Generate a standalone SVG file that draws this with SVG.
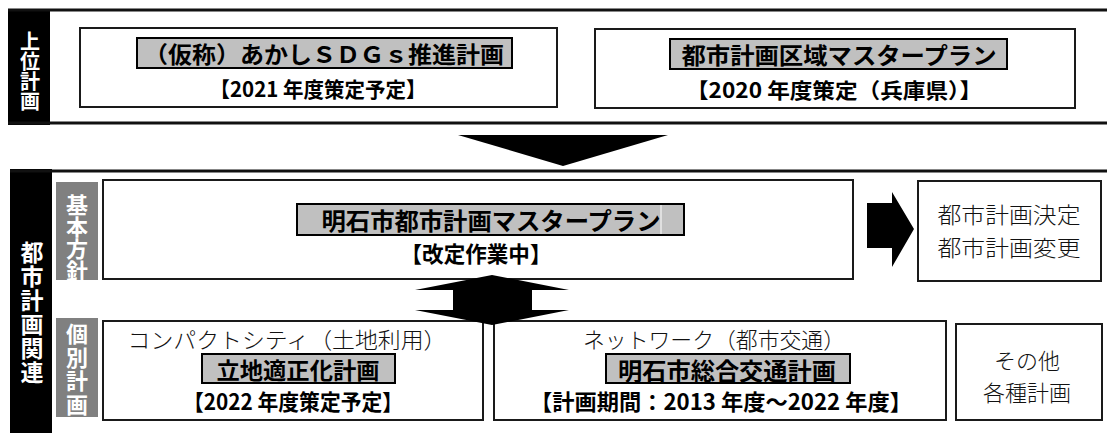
<svg xmlns="http://www.w3.org/2000/svg" width="1107" height="433" viewBox="0 0 1107 433">
<style>
  .sep{stroke:#111;stroke-width:3;fill:none}
  .band{fill:#000}
  .gband{fill:#808080}
  .vt{font-family:"Noto Sans CJK JP",sans-serif;font-weight:700;fill:#fff;writing-mode:vertical-rl;text-orientation:upright}
  .box{fill:#fff;stroke:#1a1a1a;stroke-width:2}
  .bar{fill:#c0c0c0;stroke:#000;stroke-width:2}
  .b{font-family:"Noto Sans CJK JP",sans-serif;font-weight:700;fill:#000;text-anchor:middle;dominant-baseline:central}
  .m{font-family:"Noto Sans CJK JP",sans-serif;font-weight:300;fill:#111;text-anchor:middle;dominant-baseline:central}
  .arr{fill:#000}
</style>

<g id="section-upper">
  <rect class="band" x="8" y="9" width="42" height="116"/>
  <line class="sep" x1="8" y1="10" x2="1107" y2="10"/>
  <line class="sep" x1="8" y1="123" x2="1107" y2="123"/>
  <text class="vt" font-size="20" x="30" y="31">上位計画</text>
</g>

<g id="node-sdgs">
  <rect class="box" x="80" y="28" width="477" height="79"/>
  <rect class="bar" x="137" y="38" width="375" height="30"/>
  <text class="b" font-size="23" x="324" y="53" textLength="360" lengthAdjust="spacingAndGlyphs">（仮称）あかしＳＤＧｓ推進計画</text>
  <text class="b" font-size="21" x="318" y="88" textLength="217" lengthAdjust="spacingAndGlyphs">【2021 年度策定予定】</text>
</g>

<g id="node-area-master">
  <rect class="box" x="595" y="29" width="480" height="79"/>
  <rect class="bar" x="670" y="39" width="337" height="30"/>
  <text class="b" font-size="23" x="839" y="54" textLength="315" lengthAdjust="spacingAndGlyphs">都市計画区域マスタープラン</text>
  <text class="b" font-size="21" x="834" y="89" textLength="296" lengthAdjust="spacingAndGlyphs">【2020 年度策定（兵庫県）】</text>
</g>

<g id="section-city">
  <rect class="band" x="10" y="169" width="42" height="264"/>
  <line class="sep" x1="10" y1="171" x2="1107" y2="171"/>
  <text class="vt" font-size="23" letter-spacing="1" x="32" y="241">都市計画関連</text>
</g>

<g id="label-basic">
  <clipPath id="cb"><rect x="56" y="182" width="42" height="98"/></clipPath>
  <rect class="gband" x="56" y="182" width="42" height="98"/>
  <text class="vt" font-size="22" clip-path="url(#cb)" x="77" y="194">基本方針</text>
</g>

<g id="label-individual">
  <clipPath id="ci"><rect x="56" y="318" width="42" height="99"/></clipPath>
  <rect class="gband" x="56" y="318" width="42" height="99"/>
  <text class="vt" font-size="22" letter-spacing="1.5" clip-path="url(#ci)" x="77" y="323">個別計画</text>
</g>

<g id="node-akashi-master">
  <rect class="box" x="103" y="180" width="750" height="99"/>
  <rect class="bar" x="297" y="204" width="387" height="31"/>
  <line x1="661" y1="205" x2="661" y2="234" stroke="#fff" stroke-width="1"/>
  <text class="b" font-size="24" x="491" y="219.5" textLength="339" lengthAdjust="spacingAndGlyphs">明石市都市計画マスタープラン</text>
  <text class="b" font-size="22" x="476" y="252" textLength="151" lengthAdjust="spacingAndGlyphs">【改定作業中】</text>
</g>

<g id="node-decision">
  <rect class="box" x="918" y="181" width="183" height="100"/>
  <text class="m" font-size="22"><tspan x="1009" y="213" textLength="143" lengthAdjust="spacingAndGlyphs">都市計画決定</tspan><tspan x="1009" y="246" textLength="143" lengthAdjust="spacingAndGlyphs">都市計画変更</tspan></text>
</g>

<g id="node-compact">
  <rect class="box" x="103" y="321" width="380" height="99"/>
  <text class="m" font-size="22" x="287" y="338" textLength="319" lengthAdjust="spacingAndGlyphs">コンパクトシティ（土地利用）</text>
  <rect class="bar" x="202" y="354" width="193" height="29"/>
  <text class="b" font-size="23" x="298" y="369" textLength="163" lengthAdjust="spacingAndGlyphs">立地適正化計画</text>
  <text class="b" font-size="22" x="293" y="400" textLength="220" lengthAdjust="spacingAndGlyphs">【2022 年度策定予定】</text>
</g>

<g id="node-network">
  <rect class="box" x="494" y="321" width="452" height="99"/>
  <text class="m" font-size="22" x="714" y="338" textLength="262" lengthAdjust="spacingAndGlyphs">ネットワーク（都市交通）</text>
  <rect class="bar" x="606" y="354" width="244" height="29"/>
  <text class="b" font-size="24" x="727" y="369" textLength="218" lengthAdjust="spacingAndGlyphs">明石市総合交通計画</text>
  <text class="b" font-size="22" x="721" y="400" textLength="382" lengthAdjust="spacingAndGlyphs">【計画期間：2013 年度～2022 年度】</text>
</g>

<g id="node-other">
  <rect class="box" x="956" y="324" width="146" height="96"/>
  <text class="m" font-size="22"><tspan x="1027" y="359">その他</tspan><tspan x="1027" y="391">各種計画</tspan></text>
</g>

<g id="connectors">
  <polygon class="arr" points="458,135 668,135 563,166"/>
  <polygon class="arr" points="867,203 892,203 892,192 914,229 892,267 892,248 867,248"/>
  <polygon class="arr" points="492,275 569,290 532,290 532,310 569,310 492,325 415,310 453,310 453,290 415,290"/>
</g>
</svg>
